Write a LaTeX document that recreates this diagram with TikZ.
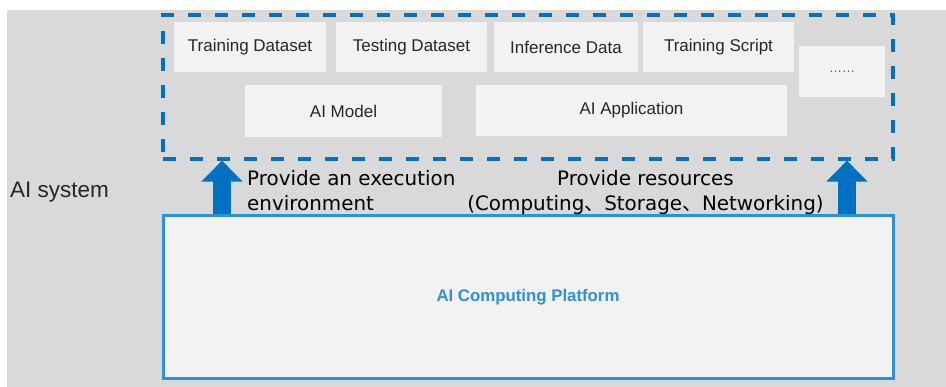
\documentclass[tikz,border=0pt]{standalone}
\usepackage{fontspec}
\setmainfont{Liberation Sans}
\newfontfamily\lblfont{DejaVu Sans}
\newfontfamily\cjk{Noto Sans CJK SC}
\usetikzlibrary{arrows.meta}
\definecolor{bggray}{HTML}{D9D9D9}
\definecolor{boxfill}{HTML}{F2F2F2}
\definecolor{dashblue}{HTML}{0070C0}
\definecolor{platblue}{HTML}{2E90D8}
\definecolor{txtdark}{HTML}{262626}
\tikzset{
  itembox/.style={fill=boxfill, draw=none, inner sep=0pt, text=txtdark,
    font=\fontsize{17}{19}\selectfont},
  sysbox/.style={draw=dashblue, line width=3.2pt, dash pattern=on 13pt off 14pt, inner sep=0pt},
  platbox/.style={draw=platblue, fill=boxfill, line width=3pt, inner sep=0pt,
    text=platblue, font=\bfseries\fontsize{16.8}{19}\selectfont},
  bigarrow/.style={draw=dashblue, line width=18pt,
    -{Triangle[width=40pt,length=21pt]}, shorten <=1.5pt},
  lbl/.style={inner sep=0pt, text=black, font=\lblfont\fontsize{19.9}{25}\selectfont}
}
\begin{document}
\begin{tikzpicture}[x=1pt,y=-1pt]
\useasboundingbox (0,0) rectangle (946,387);
\fill[white] (0,0) rectangle (946,387);
\fill[bggray] (7,10) rectangle (946,387);

\node[itembox, minimum width=152pt, minimum height=50pt] (td) at (250,47) {Training Dataset};
\node[itembox, minimum width=151pt, minimum height=50pt] (tsd) at (411.5,47) {Testing Dataset};
\node[itembox, minimum width=144pt, minimum height=50pt] (inf) at (566,47) {Inference Data};
\node[itembox, minimum width=151pt, minimum height=50pt] (tsc) at (718.5,47) {Training Script};
\node[itembox, minimum width=86pt, minimum height=51pt, text=black!65, font=\fontsize{13}{14}\selectfont] (more) at (842,71.5) {……};
\node[itembox, minimum width=197pt, minimum height=52pt] (model) at (343.5,111) {AI Model};
\node[itembox, minimum width=311pt, minimum height=51pt] (app) at (631.5,110.5) {AI Application};

\node[sysbox, minimum width=730pt, minimum height=144pt] (sys) at (528,87) {};

\node[inner sep=0pt, anchor=west, text=txtdark, font=\fontsize{22.5}{25}\selectfont] (aisys) at (10,192) {AI system};

\draw[bigarrow] ([xshift=59pt]163,216) coordinate (la) -- (la |- sys.south);
\draw[bigarrow] ([xshift=684pt]163,216) coordinate (ra) -- (ra |- sys.south);

\node[platbox, minimum width=730pt, minimum height=163pt] (plat) at (528,297.5) {AI Computing Platform};

\node[lbl, align=left, anchor=north west] (exec) at (247,170) {Provide an execution\\environment};
\node[lbl, align=center, anchor=north] (res) at (645.5,170) {Provide resources\\(Computing{\cjk 、}Storage{\cjk 、}Networking)};
\end{tikzpicture}
\end{document}
